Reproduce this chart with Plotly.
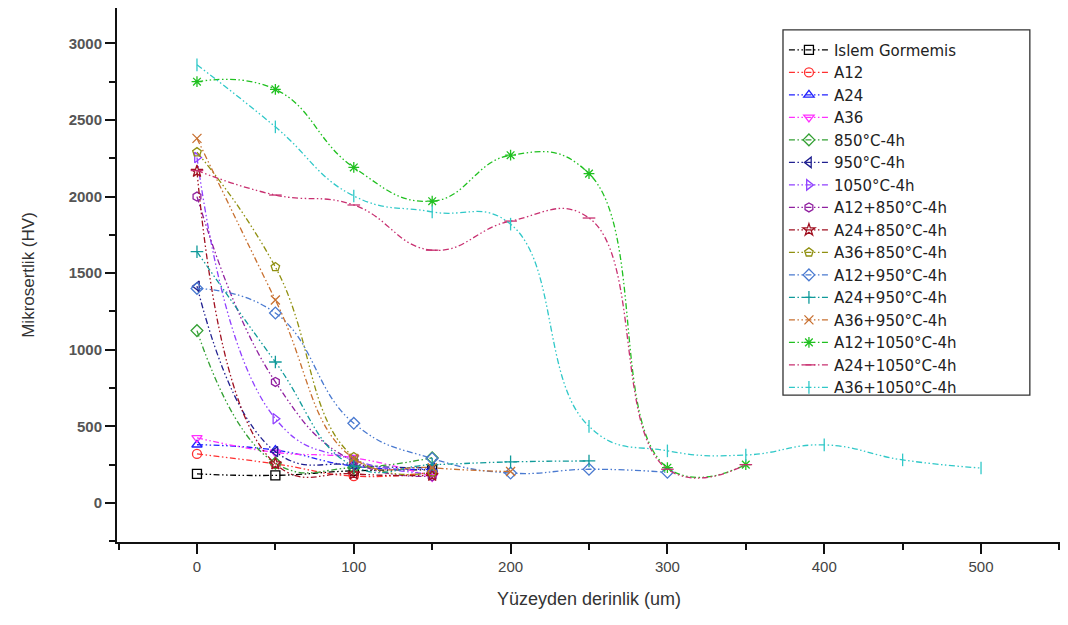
import plotly.graph_objects as go

depth = [0, 50, 100, 150, 200, 250, 300, 350, 400, 450, 500]

series_names = [
    "Islem Gormemis", "A12", "A24", "A36",
    "850°C-4h", "950°C-4h", "1050°C-4h",
    "A12+850°C-4h", "A24+850°C-4h", "A36+850°C-4h",
    "A12+950°C-4h", "A24+950°C-4h", "A36+950°C-4h",
    "A12+1050°C-4h", "A24+1050°C-4h", "A36+1050°C-4h",
]

islem = [190, 180, 210, 215]
a12 = [320, 255, 175, 200]
a24 = [380, 345, 240, 220]
a36 = [425, 330, 295, 170]
t850 = [1125, 260, 230, 295]
t950 = [1415, 335, 250, 230]
t1050 = [2255, 550, 280, 190]
a12_850 = [2000, 790, 270, 175]
a24_850 = [2165, 255, 190, 180]
a36_850 = [2290, 1540, 300, 200]
a12_950 = [1400, 1240, 520, 290, 195, 220, 200]
a24_950 = [1640, 920, 240, 250, 268, 274]
a36_950 = [2380, 1325, 290, 230, 205]
a12_1050 = [2750, 2700, 2190, 1970, 2270, 2150, 230, 250]
a24_1050 = [2170, 2010, 1945, 1650, 1840, 1860, 220, 250]
a36_1050 = [2860, 2455, 2004, 1900, 1820, 500, 340, 313, 379, 281, 228]

values = [islem, a12, a24, a36, t850, t950, t1050, a12_850, a24_850, a36_850,
          a12_950, a24_950, a36_950, a12_1050, a24_1050, a36_1050]

colors = ["#000000", "#ff3030", "#2020ff", "#ff30ff", "#33a033", "#202090",
          "#9040ff", "#9020a0", "#a01020", "#909010", "#4a7ad0", "#109a9a",
          "#c87030", "#20c020", "#c83070", "#30c8c8"]

symbols = ["square-open", "circle-open", "triangle-up-open", "triangle-down-open",
           "diamond-open", "triangle-left-open", "triangle-right-open",
           "hexagon-open", "star-open", "pentagon-open", "diamond-open",
           "cross-thin-open", "x-thin-open", "asterisk-open", "line-ew-open",
           "line-ns-open"]

fig = go.Figure()
for name, vals, col, sym in zip(series_names, values, colors, symbols):
    fig.add_trace(go.Scatter(
        x=depth[:len(vals)], y=vals, name=name, mode="lines+markers",
        line=dict(color=col, width=1.3, shape="spline", smoothing=1.3,
                  dash="6px,2.5px,1.5px,2.5px,1.5px,2.5px"),
        marker=dict(symbol=sym, size=9, color=col, line=dict(color=col, width=1.3)),
    ))

# legend frame (wider box, as in the original)
fig.add_shape(type="rect", xref="paper", yref="paper",
              x0=0.7055, x1=0.967, y0=0.275, y1=0.959,
              line=dict(color="#333333", width=1.3), fillcolor="rgba(0,0,0,0)", layer="above")

fig.update_layout(
    width=1068, height=625,
    margin=dict(l=109, r=15, t=0, b=91),
    paper_bgcolor="white", plot_bgcolor="white",
    font=dict(family="Liberation Sans, Arial", color="#444444"),
    showlegend=True,
    legend=dict(
        x=0.7065, y=0.952, xanchor="left", yanchor="top",
        borderwidth=0, bgcolor="rgba(255,255,255,0)",
        font=dict(size=15, color="#222222", family="DejaVu Sans, Liberation Sans"),
        tracegroupgap=0, itemwidth=40,
    ),
    xaxis=dict(
        range=[-51, 551], tickvals=[0, 100, 200, 300, 400, 500], automargin=False,
        showgrid=False, zeroline=False, showline=True, linecolor="#111111", linewidth=2,
        ticks="outside", ticklen=10, tickwidth=2, tickcolor="#111111",
        minor=dict(dtick=50, tick0=0, ticks="outside", ticklen=6, tickwidth=2, tickcolor="#111111"),
        tickfont=dict(size=15, family="Liberation Sans Narrow, Liberation Sans", color="#444444"),
        title=dict(text="Yüzeyden derinlik (um)", standoff=18,
                   font=dict(size=18, family="Liberation Sans Narrow, Liberation Sans", color="#333333")),
    ),
    yaxis=dict(
        range=[-255, 3231], tickvals=[0, 500, 1000, 1500, 2000, 2500, 3000], automargin=False,
        showgrid=False, zeroline=False, showline=True, linecolor="#111111", linewidth=2,
        ticks="outside", ticklen=10, tickwidth=2, tickcolor="#111111",
        minor=dict(dtick=250, tick0=0, ticks="outside", ticklen=6, tickwidth=2, tickcolor="#111111"),
        tickfont=dict(size=15, family="Liberation Sans", color="#555555", weight="bold"),
        title=dict(text="Mikrosertlik (HV)", standoff=30,
                   font=dict(size=17, family="Liberation Sans Narrow, Liberation Sans", color="#333333")),
    ),
)

fig.write_html("out.html")
